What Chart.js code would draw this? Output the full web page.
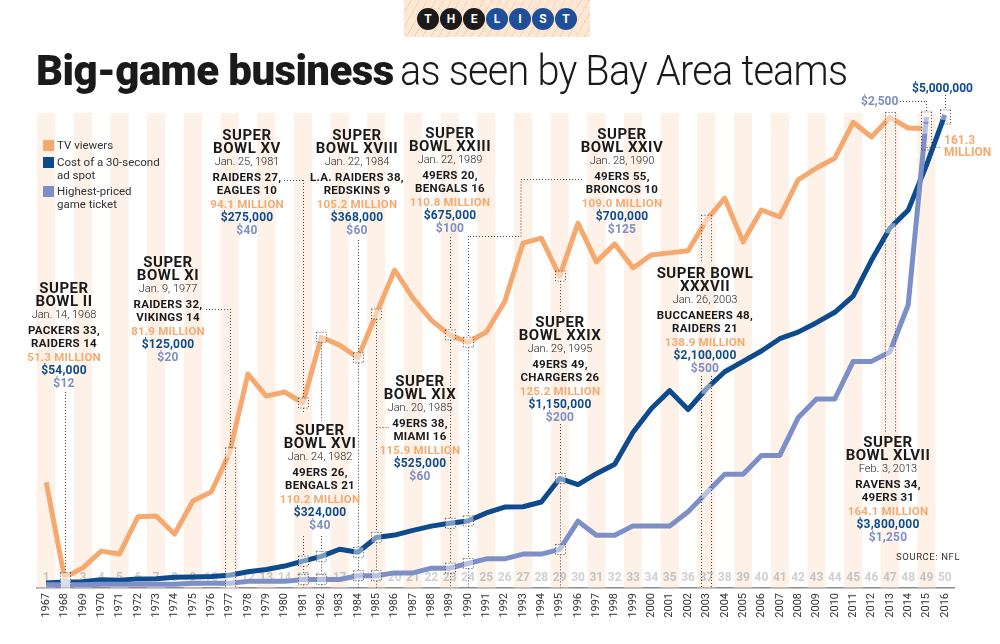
<!DOCTYPE html>
<html>
<head>
<meta charset="utf-8">
<script src="https://cdn.jsdelivr.net/npm/chart.js@4.4.1/dist/chart.umd.min.js"></script>
<style>
html, body { margin: 0; padding: 0; background: #fff; }
#wrap { position: relative; width: 1000px; height: 644px; overflow: hidden; font-family: Roboto, "Noto Sans", sans-serif; color: #1a1a1a; }
#wrap canvas { position: absolute; left: 0; top: 0; }
.abs { position: absolute; white-space: nowrap; }
#logo { left: 404px; top: 0; width: 186px; height: 37px;
  background: repeating-linear-gradient(120deg, #fde8d6 0 6px, #f7d2b4 6px 7px); }
.dot { position: absolute; top: 8px; width: 22px; height: 22px; border-radius: 50%; color: #fff;
  font: 700 12px/22px Roboto, sans-serif; text-align: center; }
.ttl { top: 50px; font-size: 42px; line-height: 42px; }
#t1 { left: 36px; font-weight: 900; letter-spacing: -0.6px; }
#t2 { left: 400px; font-weight: 300; letter-spacing: -0.8px; transform: scaleX(0.943); transform-origin: 0 0; }
.leg { left: 57px; font-size: 11.5px; line-height: 13px; color: #333; }
.sq { position: absolute; left: 43px; width: 11px; height: 11px; }
.blk div { position: absolute; left: -80px; width: 160px; text-align: center; white-space: nowrap; }
</style>
</head>
<body>
<div id="wrap">
  <canvas id="c" width="1000" height="644"></canvas>
</div>
<script>
const years = ['1967','1968','1969','1970','1971','1972','1973','1974','1975','1976',
  '1977','1978','1979','1980','1981','1982','1983','1984','1985','1986',
  '1987','1988','1989','1990','1991','1992','1993','1994','1995','1996',
  '1997','1998','1999','2000','2001','2002','2003','2004','2005','2006',
  '2007','2008','2009','2010','2011','2012','2013','2014','2015','2016'];
const gameNumbers = ['1','2','3','4','5','6','7','8','9','10','11','12','13','14','15','16','17',
  '18','19','20','21','22','23','24','25','26','27','28','29','30','31','32','33','34','35','36',
  '37','38','39','40','41','42','43','44','45','46','47','48','49','50'];

// TV viewers, millions
const tvViewers = [74.7, 51.3, 53.7, 57.8, 57.1, 66.2, 66.4, 62.0, 70.1, 72.3,
  81.9, 101.2, 95.8, 96.8, 94.1, 110.2, 108.3, 105.2, 115.9, 126.7,
  119.8, 114.4, 110.8, 109.0, 111.5, 118.9, 133.3, 134.5, 125.2, 138.2,
  128.7, 133.1, 127.2, 130.4, 130.9, 131.4, 138.9, 144.3, 133.6, 141.4,
  139.7, 148.8, 151.7, 154.1, 162.9, 159.3, 164.1, 161.5, 161.3, null];
// cost of a 30-second ad, dollars
const adCost = [42000, 54000, 55000, 78000, 72000, 86000, 88000, 103000, 107000, 110000,
  125000, 162000, 185000, 222000, 275000, 324000, 400000, 368000, 525000, 550000,
  600000, 645000, 675000, 700000, 784000, 847000, 850000, 900000, 1150000, 1085000,
  1200000, 1300000, 1640000, 1890000, 2080000, 1880000, 2100000, 2280000, 2390000, 2500000,
  2630000, 2700000, 2800000, 2910000, 3080000, 3460000, 3800000, 3990000, 4470000, 5000000];
// highest-priced ticket, dollars
const ticketPrice = [12, 12, 12, 15, 15, 15, 15, 15, 20, 20,
  20, 30, 30, 30, 40, 40, 40, 60, 60, 75,
  75, 100, 100, 125, 150, 150, 175, 175, 200, 350,
  275, 275, 325, 325, 325, 400, 500, 600, 600, 700,
  700, 900, 1000, 1000, 1200, 1200, 1250, 1500, 2500, null];

const ORANGE = '#f6a96f', DARK = '#0d4a8e', LIGHT = '#7d8fc8';

// annotation text
const blocks = [
  {x: 64,  y: 288, title: ['SUPER', 'BOWL II'], date: 'Jan. 14, 1968', teams: ['PACKERS 33,', 'RAIDERS 14'], tv: '51.3 MILLION', ad: '$54,000', tix: '$12'},
  {x: 168, y: 262, title: ['SUPER', 'BOWL XI'], date: 'Jan. 9, 1977', teams: ['RAIDERS 32,', 'VIKINGS 14'], tv: '81.9 MILLION', ad: '$125,000', tix: '$20'},
  {x: 247, y: 135, title: ['SUPER', 'BOWL XV'], date: 'Jan. 25, 1981', teams: ['RAIDERS 27,', 'EAGLES 10'], tv: '94.1 MILLION', ad: '$275,000', tix: '$40'},
  {x: 357, y: 135, title: ['SUPER', 'BOWL XVIII'], date: 'Jan. 22, 1984', teams: ['L.A. RAIDERS 38,', 'REDSKINS 9'], tv: '105.2 MILLION', ad: '$368,000', tix: '$60'},
  {x: 450, y: 133, title: ['SUPER', 'BOWL XXIII'], date: 'Jan. 22, 1989', teams: ['49ERS 20,', 'BENGALS 16'], tv: '110.8 MILLION', ad: '$675,000', tix: '$100'},
  {x: 622, y: 134, title: ['SUPER', 'BOWL XXIV'], date: 'Jan. 28, 1990', teams: ['49ERS 55,', 'BRONCOS 10'], tv: '109.0 MILLION', ad: '$700,000', tix: '$125'},
  {x: 320, y: 430, title: ['SUPER', 'BOWL XVI'], date: 'Jan. 24, 1982', teams: ['49ERS 26,', 'BENGALS 21'], tv: '110.2 MILLION', ad: '$324,000', tix: '$40'},
  {x: 420, y: 381, title: ['SUPER', 'BOWL XIX'], date: 'Jan. 20, 1985', teams: ['49ERS 38,', 'MIAMI 16'], tv: '115.9 MILLION', ad: '$525,000', tix: '$60'},
  {x: 560, y: 322, title: ['SUPER', 'BOWL XXIX'], date: 'Jan. 29, 1995', teams: ['49ERS 49,', 'CHARGERS 26'], tv: '125.2 MILLION', ad: '$1,150,000', tix: '$200'},
  {x: 705, y: 273, title: ['SUPER BOWL', 'XXXVII'], date: 'Jan. 26, 2003', teams: ['BUCCANEERS 48,', 'RAIDERS 21'], tv: '138.9 MILLION', ad: '$2,100,000', tix: '$500'},
  {x: 888, y: 442, title: ['SUPER', 'BOWL XLVII'], date: 'Feb. 3, 2013', teams: ['RAVENS 34,', '49ERS 31'], tv: '164.1 MILLION', ad: '$3,800,000', tix: '$1,250'}
];

// highlighted years: dotted markers
const highlights = [
  {year: '1968', style: 'box', top: 392},
  {year: '1977', style: 'box', top: 309},
  {year: '1981', style: 'line', top: 180, gaps: [[412, 536]]},
  {year: '1982', style: 'line', gaps: [[421, 536]]},
  {year: '1984', style: 'line', top: 240},
  {year: '1985', style: 'line'},
  {year: '1989', style: 'line', top: 237},
  {year: '1990', style: 'line', top: 236},
  {year: '1995', style: 'line', gaps: [[312, 424]]},
  {year: '2003', style: 'box', gaps: [[262, 376]]},
  {year: '2013', style: 'box', end: 432},
  {year: '2015', style: 'box', top: 101, end: 150, closed: true},
  {year: '2016', style: 'box', top: 95, end: 124, closed: true}
];
const leaders = [
  [[206, 309], ['1977', 309]],
  [[284, 180], ['1981', 180]],
  [[582, 179], [521, 179], [521, 236], ['1990', 236]],
  [['1985', 427], [389, 427]],
  [[900, 101], ['2015', 101]],
  [['2015', 147], [941, 147]]
];

const wrap = document.getElementById('wrap');
function add(html) { wrap.insertAdjacentHTML('beforeend', html); }

// logo
let logo = '<div id="logo" class="abs">';
['T','H','E','L','I','S','T'].forEach((ch, i) => {
  logo += '<div class="dot" style="left:' + (13 + i * 23) + 'px;background:' + (i < 3 ? '#1b1b1b' : '#1e4f98') + '">' + ch + '</div>';
});
add(logo + '</div>');
add('<div id="t1" class="abs ttl">Big-game business</div>');
add('<div id="t2" class="abs ttl">as seen by Bay Area teams</div>');

// legend
add('<div class="sq" style="top:140px;background:' + ORANGE + '"></div>');
add('<div class="sq" style="top:157px;background:' + DARK + '"></div>');
add('<div class="sq" style="top:186px;background:' + LIGHT + '"></div>');
add('<div class="abs leg" style="top:139px">TV viewers</div>');
add('<div class="abs leg" style="top:156px">Cost of a 30-second<br>ad spot</div>');
add('<div class="abs leg" style="top:185px">Highest-priced<br>game ticket</div>');

// annotation blocks
const offs = [0, 13, 27, 42, 55, 69, 82, 95];
const st = [
  'font-size:15px;font-weight:700;letter-spacing:0.5px;color:#1a1a1a',
  'font-size:15px;font-weight:700;letter-spacing:0.5px;color:#1a1a1a',
  'font-size:11px;font-weight:300;color:#222',
  'font-size:11.5px;font-weight:700;letter-spacing:0.3px;color:#1a1a1a',
  'font-size:11.5px;font-weight:700;letter-spacing:0.3px;color:#1a1a1a',
  'font-size:11.5px;font-weight:700;letter-spacing:0.2px;color:' + ORANGE,
  'font-size:12px;font-weight:700;letter-spacing:0.2px;color:' + DARK,
  'font-size:12px;font-weight:700;letter-spacing:0.2px;color:' + LIGHT
];
blocks.forEach(b => {
  const lines = [b.title[0], b.title[1], b.date, b.teams[0], b.teams[1], b.tv, b.ad, b.tix];
  let h = '<div class="abs blk" style="left:' + b.x + 'px;top:0">';
  lines.forEach((t, i) => {
    h += '<div style="top:' + (b.y + offs[i] - 8) + 'px;line-height:16px;' + st[i] + '">' + t + '</div>';
  });
  add(h + '</div>');
});

add('<div class="abs" style="left:912px;top:81px;font-size:12px;font-weight:700;color:' + DARK + '">$5,000,000</div>');
add('<div class="abs" style="left:861px;top:94px;font-size:12px;font-weight:700;color:' + LIGHT + '">$2,500</div>');
add('<div class="abs" style="left:944px;top:134px;font-size:12px;line-height:12px;font-weight:700;color:' + ORANGE + '">161.3<br>MILLION</div>');
add('<div class="abs" style="left:896px;top:551px;font-size:9.5px;letter-spacing:0.6px;color:#333">SOURCE: NFL</div>');

function xOf(chart, yr) { return chart.scales.x.getPixelForValue(years.indexOf(yr)); }
function pointYs(chart, yr) {
  const i = years.indexOf(yr);
  const ys = [];
  chart.data.datasets.forEach(ds => {
    const v = ds.data[i];
    if (v !== null && v !== undefined) ys.push(chart.scales[ds.yAxisID].getPixelForValue(v));
  });
  return ys;
}
function vline(ctx, x, y1, y2, gaps) {
  let segs = [[y1, y2]];
  (gaps || []).forEach(g => {
    const out = [];
    segs.forEach(s => {
      if (g[1] <= s[0] || g[0] >= s[1]) { out.push(s); return; }
      if (g[0] > s[0]) out.push([s[0], g[0]]);
      if (g[1] < s[1]) out.push([g[1], s[1]]);
    });
    segs = out;
  });
  segs.forEach(s => {
    ctx.beginPath(); ctx.moveTo(x, s[0]); ctx.lineTo(x, s[1]); ctx.stroke();
  });
}

const backdrop = {
  id: 'backdrop',
  beforeDatasetsDraw(chart) {
    const {ctx, chartArea} = chart;
    const w = chart.scales.x.width / years.length;
    ctx.save();
    ctx.fillStyle = 'rgba(252,226,204,0.45)';
    years.forEach((y, i) => {
      if (i % 2 === 0) {
        const x = chart.scales.x.getPixelForValue(i);
        ctx.fillRect(x - w / 2, chartArea.top, w, chartArea.bottom - chartArea.top);
      }
    });
    ctx.font = '700 12px Roboto, sans-serif';
    ctx.textAlign = 'center';
    ctx.textBaseline = 'middle';
    gameNumbers.forEach((n, i) => {
      ctx.fillStyle = i % 2 === 0 ? '#c3c3c6' : '#d0d0d3';
      ctx.fillText(n, chart.scales.x.getPixelForValue(i), chartArea.bottom - 10);
    });
    ctx.restore();
  },
  afterDatasetsDraw(chart) {
    const {ctx, chartArea} = chart;
    const axis = chartArea.bottom;
    ctx.save();
    ctx.strokeStyle = '#4a4a4a';
    ctx.lineWidth = 1;
    ctx.setLineDash([1, 2]);
    highlights.forEach(h => {
      const x = Math.round(xOf(chart, h.year)) + 0.5;
      const ys = pointYs(chart, h.year);
      const top = Math.min(...ys) - 5;
      const end = h.end || axis;
      ctx.fillStyle = 'rgba(255,255,255,0.45)';
      if (h.style === 'box') {
        ys.forEach(y => { if (y <= end) ctx.fillRect(x - 5, y - 5, 10, 10); });
        if (h.top !== undefined) vline(ctx, x, h.top, top, h.gaps);
        ctx.beginPath(); ctx.moveTo(x - 5, top); ctx.lineTo(x + 5, top); ctx.stroke();
        vline(ctx, x - 5, top, end, h.gaps);
        vline(ctx, x + 5, top, end, h.gaps);
        if (h.closed) { ctx.beginPath(); ctx.moveTo(x - 5, end); ctx.lineTo(x + 5, end); ctx.stroke(); }
      } else {
        ys.forEach(y => {
          ctx.fillRect(x - 5, y - 5, 10, 10);
          ctx.strokeRect(x - 5, y - 5, 10, 10);
        });
        const start = h.top !== undefined ? h.top : top;
        const gaps = (h.gaps || []).concat(ys.map(y => [y - 5, y + 5]));
        vline(ctx, x, start, axis, gaps);
      }
    });
    leaders.forEach(path => {
      ctx.beginPath();
      path.forEach((p, i) => {
        const px = typeof p[0] === 'string' ? Math.round(xOf(chart, p[0])) + 0.5 : p[0];
        const py = Math.round(p[1]) + 0.5;
        if (i === 0) ctx.moveTo(px, py); else ctx.lineTo(px, py);
      });
      ctx.stroke();
    });
    ctx.restore();
  }
};

new Chart(document.getElementById('c'), {
  type: 'line',
  data: {
    labels: years,
    datasets: [
      {label: 'TV viewers', data: tvViewers, yAxisID: 'yTv', borderColor: ORANGE, order: 3},
      {label: 'Cost of a 30-second ad spot', data: adCost, yAxisID: 'yAd', borderColor: DARK, order: 2},
      {label: 'Highest-priced game ticket', data: ticketPrice, yAxisID: 'yTix', borderColor: LIGHT, order: 1}
    ]
  },
  options: {
    responsive: false,
    devicePixelRatio: 1,
    animation: false,
    layout: {padding: {left: 37, right: 46, top: 113, bottom: 0}},
    elements: {
      line: {borderWidth: 5, tension: 0, borderJoinStyle: 'round', borderCapStyle: 'butt'},
      point: {radius: 0, hoverRadius: 0}
    },
    plugins: {legend: {display: false}, tooltip: {enabled: false}},
    scales: {
      x: {
        type: 'category',
        offset: true,
        grid: {display: false, drawTicks: false},
        border: {display: true, color: '#8c8c8c', width: 1.5},
        ticks: {autoSkip: false, maxRotation: 90, minRotation: 90, padding: 5,
          color: '#333', font: {family: 'Roboto', size: 11}},
        afterFit(scale) { scale.height = 56; }
      },
      yTv: {display: false, min: 48.76, max: 165.18},
      yAd: {display: false, min: -10600, max: 5021000},
      yTix: {display: false, min: -5.3, max: 2521}
    }
  },
  plugins: [backdrop]
});
</script>
</body>
</html>
